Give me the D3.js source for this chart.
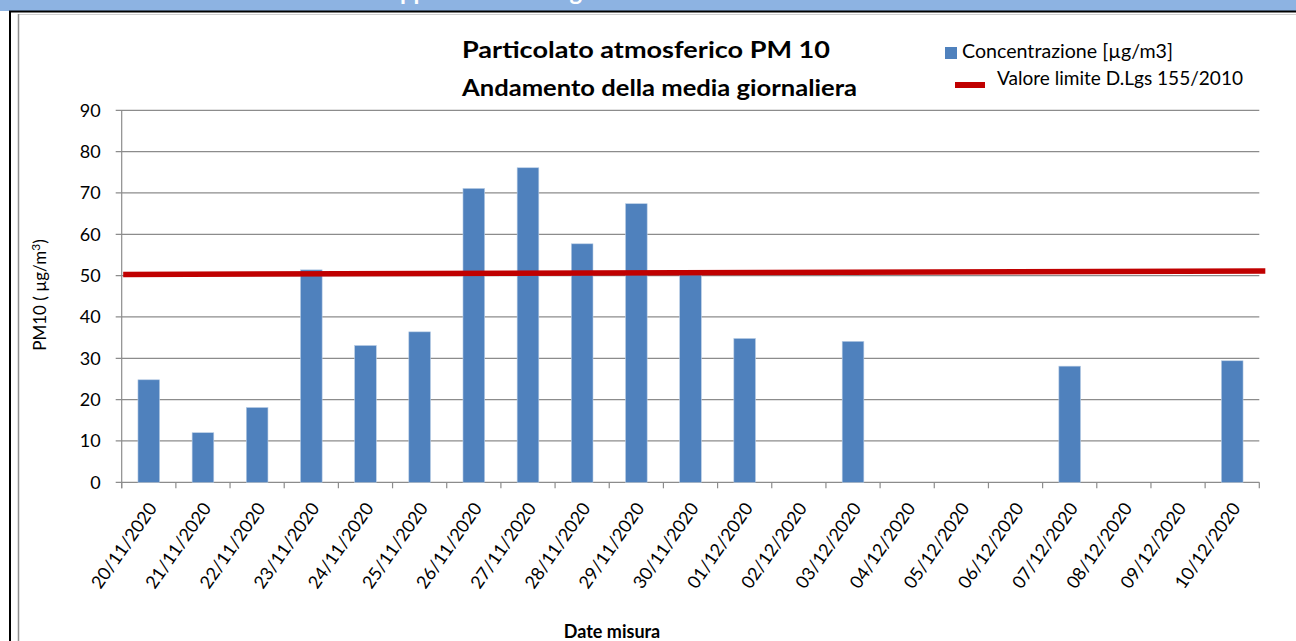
<!DOCTYPE html>
<html><head><meta charset="utf-8">
<script src="https://cdn.jsdelivr.net/npm/d3@7"></script>
<style>html,body{margin:0;padding:0;background:#fff;overflow:hidden}</style>
</head><body>
<script>
const categories = ["20/11/2020","21/11/2020","22/11/2020","23/11/2020","24/11/2020","25/11/2020","26/11/2020","27/11/2020","28/11/2020","29/11/2020","30/11/2020","01/12/2020","02/12/2020","03/12/2020","04/12/2020","05/12/2020","06/12/2020","07/12/2020","08/12/2020","09/12/2020","10/12/2020"];
const concentrazione = [24.8,12.0,18.1,51.4,33.1,36.4,71.1,76.1,57.7,67.4,50.2,34.8,null,34.1,null,null,null,28.1,null,null,29.4];
const limitLine = [50.3, 51.1];
const yTicks = [0,10,20,30,40,50,60,70,80,90];
const titleLines = ["Particolato atmosferico PM 10","Andamento della media giornaliera"];
const headerText = "Rappresentazione grafica delle concentrazioni di PM10";
const legendLabels = ["Concentrazione [µg/m3]","Valore limite D.Lgs 155/2010"];

(function(){
const W=1296,H=641;
const font="Lato, 'Open Sans', sans-serif";
const svg=d3.select("body").append("svg").attr("width",W).attr("height",H).style("font-family",font);

svg.append("rect").attr("x",0).attr("y",0).attr("width",W).attr("height",11).attr("fill","#8db3e2");
svg.append("text").attr("x",665).attr("y",0).attr("text-anchor","middle").attr("fill","#fff")
  .attr("font-weight","bold").attr("font-size",24).text(headerText);
svg.append("line").attr("x1",9).attr("x2",W).attr("y1",11.5).attr("y2",11.5).attr("stroke","#000").attr("stroke-width",2);
svg.append("line").attr("x1",18).attr("x2",W).attr("y1",14.5).attr("y2",14.5).attr("stroke","#d0d0d0").attr("stroke-width",1);
svg.append("line").attr("x1",10).attr("x2",10).attr("y1",11).attr("y2",H).attr("stroke","#000").attr("stroke-width",2);
svg.append("line").attr("x1",18.5).attr("x2",18.5).attr("y1",14).attr("y2",H).attr("stroke","#909090").attr("stroke-width",1.5);

const pL=121.7,pR=1259.3,pT=110.3,pB=482.3;
const x=d3.scaleBand().domain(categories).range([pL,pR]).paddingInner(0.6).paddingOuter(0.3);
const xb=d3.scaleBand().domain(categories).range([pL,pR]);
const y=d3.scaleLinear().domain([0,90]).range([pB,pT]);

svg.append("g").selectAll("line").data(yTicks).join("line")
  .attr("x1",pL-6).attr("x2",pR).attr("y1",d=>y(d)).attr("y2",d=>y(d))
  .attr("stroke","#8c8c8c").attr("stroke-width",1.2);
svg.append("line").attr("x1",pL).attr("x2",pL).attr("y1",pT).attr("y2",pB+6).attr("stroke","#8c8c8c").attr("stroke-width",1.2);
svg.append("g").selectAll("text").data(yTicks).join("text")
  .attr("x",pL-21).attr("y",d=>y(d)).attr("dy","0.36em").attr("text-anchor","end")
  .attr("font-size",18).attr("fill","#000").text(d=>d);
const tickPos=categories.map(c=>xb(c)).concat([pR]);
svg.append("g").selectAll("line").data(tickPos).join("line")
  .attr("x1",d=>d).attr("x2",d=>d).attr("y1",pB).attr("y2",pB+6)
  .attr("stroke","#8c8c8c").attr("stroke-width",1.2);

svg.append("g").selectAll("rect").data(categories.map((c,i)=>({c,v:concentrazione[i]})).filter(d=>d.v!=null)).join("rect")
  .attr("x",d=>x(d.c)).attr("width",x.bandwidth()).attr("y",d=>y(d.v)).attr("height",d=>pB-y(d.v))
  .attr("fill","#4f81bd").attr("stroke","#b9cde5").attr("stroke-width",0.6);

svg.append("line").attr("x1",pL+1.5).attr("x2",pR+6).attr("y1",y(limitLine[0])).attr("y2",y(limitLine[1]))
  .attr("stroke","#c00000").attr("stroke-width",5.5);

svg.append("g").selectAll("text").data(categories).join("text")
  .attr("transform",d=>`translate(${xb(d)+xb.bandwidth()/2+9},${pB+26}) rotate(-55)`)
  .attr("text-anchor","end").attr("font-size",18).attr("fill","#000").text(d=>d);

const tLen=[368,395];
svg.append("g").selectAll("text").data(titleLines).join("text")
  .attr("x",462).attr("y",(d,i)=>58+i*37.5)
  .attr("textLength",(d,i)=>tLen[i]).attr("lengthAdjust","spacingAndGlyphs")
  .attr("font-weight","bold").attr("font-size",22).attr("fill","#000").text(d=>d);

svg.append("rect").attr("x",945).attr("y",47).attr("width",12).attr("height",12).attr("fill","#4f81bd");
svg.append("text").attr("x",962).attr("y",57.5).attr("font-size",19.5).attr("textLength",211).attr("lengthAdjust","spacingAndGlyphs").text(legendLabels[0]);
svg.append("line").attr("x1",955).attr("x2",985).attr("y1",85).attr("y2",85).attr("stroke","#c00000").attr("stroke-width",6);
svg.append("text").attr("x",997).attr("y",85).attr("font-size",19.5).attr("textLength",246).attr("lengthAdjust","spacingAndGlyphs").text(legendLabels[1]);

svg.append("text").attr("transform","translate(46,295) rotate(-90)").attr("text-anchor","middle")
  .attr("font-size",17).html('PM10 ( µg/m<tspan dy="-6" font-size="12">3</tspan><tspan dy="6">)</tspan>');
svg.append("text").attr("x",612).attr("y",638).attr("text-anchor","middle").attr("font-weight","bold")
  .attr("font-size",18).text("Date misura");
})();
</script>
</body></html>
